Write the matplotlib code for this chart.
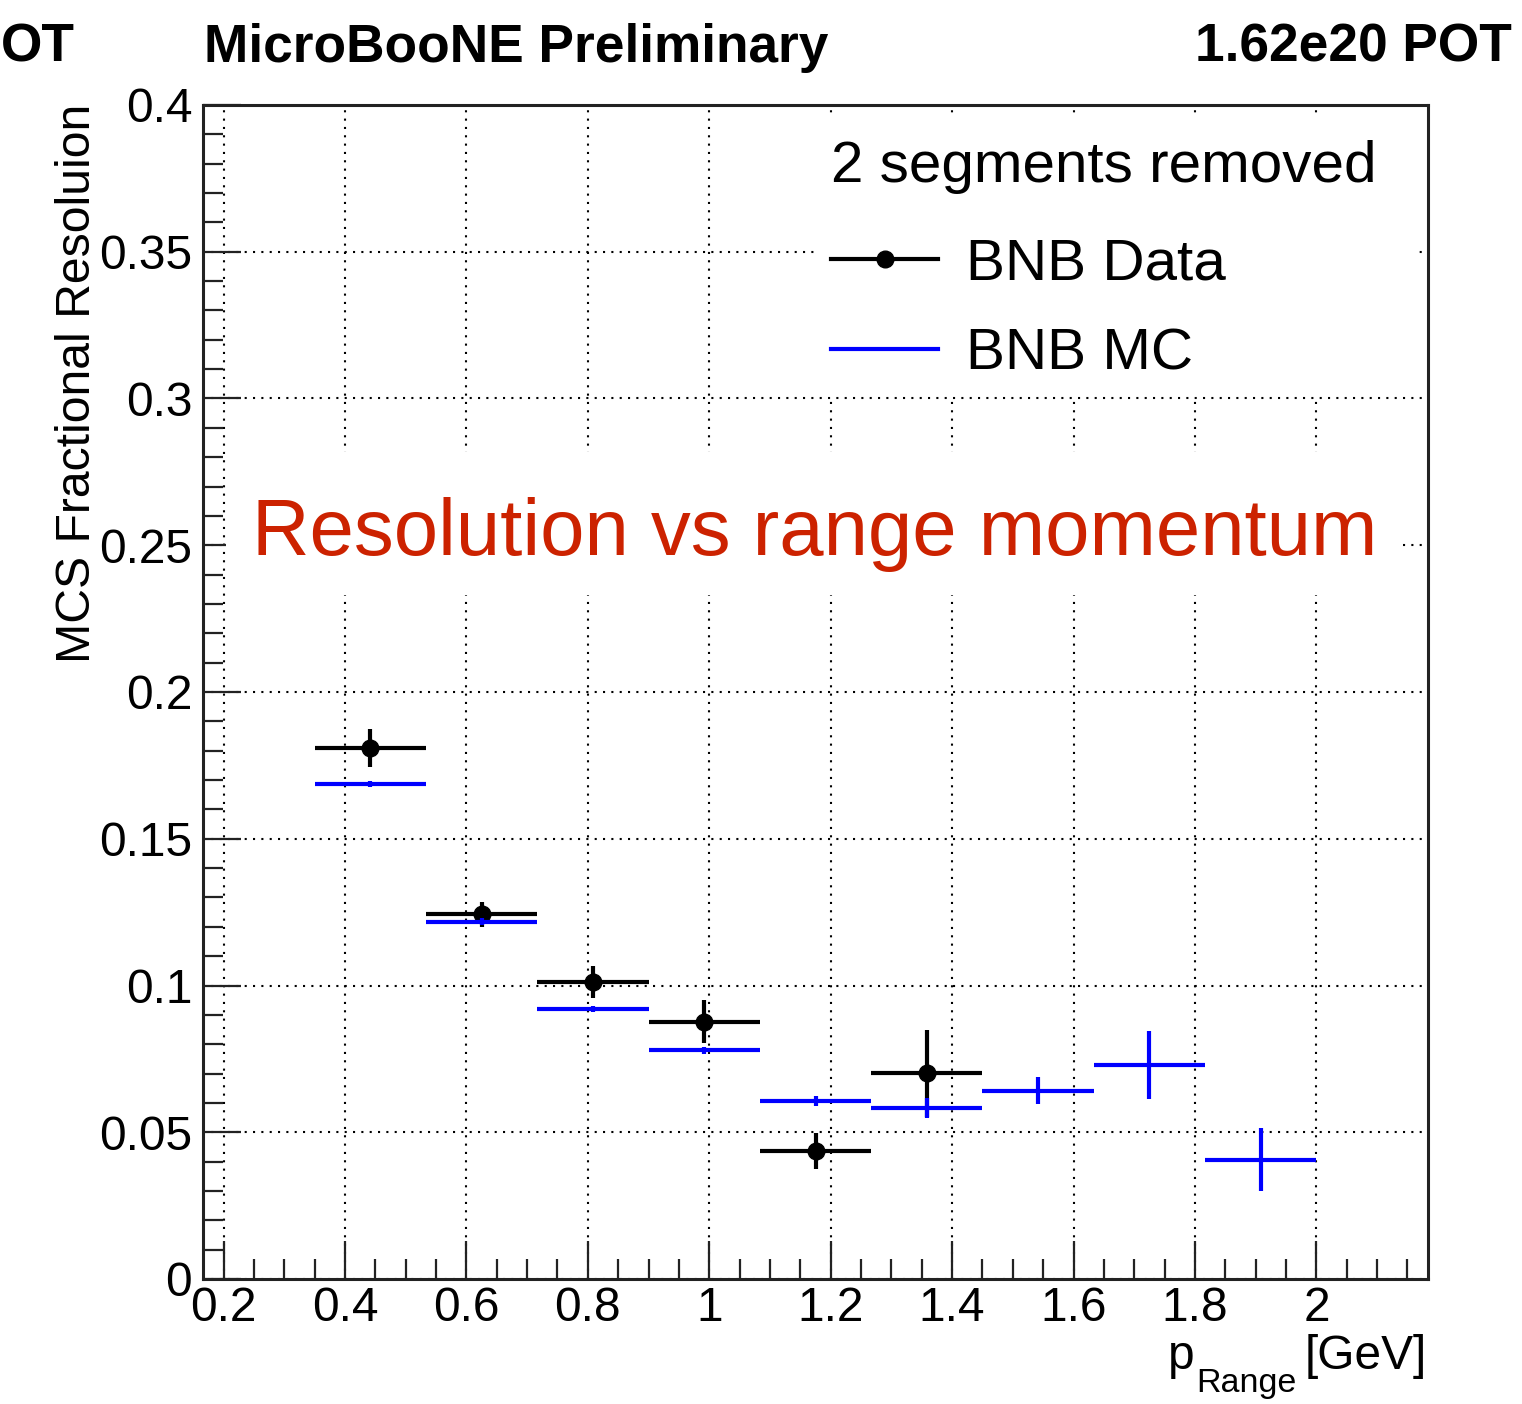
import matplotlib
matplotlib.use('Agg')
import matplotlib.pyplot as plt
from matplotlib.ticker import MultipleLocator, FuncFormatter
from matplotlib.lines import Line2D
from matplotlib.patches import Rectangle
import numpy as np

plt.rcParams['font.family'] = ['Liberation Sans', 'DejaVu Sans']

# ---------------- data ----------------
bin_edges = [0.35, 0.5333, 0.7167, 0.9, 1.0833, 1.2667, 1.45, 1.6333, 1.8167, 2.0]
data_vals = [0.1809, 0.1243, 0.1013, 0.0877, 0.0437, 0.0701]
data_errs = [0.0064, 0.0043, 0.0055, 0.0073, 0.0062, 0.0148]
mc_vals = [0.1687, 0.1217, 0.0920, 0.0780, 0.0608, 0.0582, 0.0642, 0.0728, 0.0406]
mc_errs = [0.0010, 0.0012, 0.0010, 0.0012, 0.0017, 0.0034, 0.0047, 0.0116, 0.0107]
x_range = [0.1667, 2.1833]
y_range = [0.0, 0.4]
legend_header = "2 segments removed"
legend_labels = ["BNB Data", "BNB MC"]
annotation = "Resolution vs range momentum"

edges = np.array(bin_edges)
centers = 0.5 * (edges[:-1] + edges[1:])
halfw = 0.5 * (edges[1:] - edges[:-1])
nd = len(data_vals)

W, H = 1522, 1404
fig = plt.figure(figsize=(W / 100, H / 100), dpi=100)
AX_L, AX_R, AX_T, AX_B = 203.3, 1427.7, 105.0, 1279.0
ax = fig.add_axes([AX_L / W, 1 - AX_B / H, (AX_R - AX_L) / W, (AX_B - AX_T) / H])

ax.set_xlim(*x_range)
ax.set_ylim(*y_range)


def ax_xy(px, py):
    """figure pixel (from top-left) -> axes fraction"""
    return (px - AX_L) / (AX_R - AX_L), (AX_B - py) / (AX_B - AX_T)


# grid
ax.set_axisbelow(True)
ax.grid(True, which='major', color='black', linestyle=(0, (1, 3)), linewidth=1.5)

# Data
ax.errorbar(centers[:nd], data_vals, xerr=halfw[:nd], yerr=data_errs, fmt='o',
            color='black', ms=12, elinewidth=3, capsize=0, zorder=3)
# MC (drawn on top)
ax.errorbar(centers, mc_vals, xerr=halfw, yerr=mc_errs, fmt='none',
            ecolor='#0000ff', elinewidth=3, capsize=0, zorder=4)

# axes style
for s in ax.spines.values():
    s.set_linewidth(2.2)
    s.set_color('#222222')
ax.xaxis.set_major_locator(MultipleLocator(0.2))
ax.xaxis.set_minor_locator(MultipleLocator(0.05))
ax.yaxis.set_major_locator(MultipleLocator(0.05))
ax.yaxis.set_minor_locator(MultipleLocator(0.01))
fmt = FuncFormatter(lambda v, p: '%g' % round(v, 4))
ax.xaxis.set_major_formatter(fmt)
ax.yaxis.set_major_formatter(fmt)
ax.tick_params(which='both', direction='in', top=False, right=False, width=1.6, color='#222222')
ax.tick_params(which='major', length=27.4, labelsize=34.5)
ax.tick_params(which='minor', length=14.4)
ax.tick_params(axis='x', which='major', pad=4.8)
ax.tick_params(axis='y', which='major', pad=8)

# white background boxes (legend area, annotation area) hiding the grid
lx0, ly0 = ax_xy(817, 396)
lx1, ly1 = ax_xy(1418, 115)
ax.add_patch(Rectangle((lx0, ly0), lx1 - lx0, ly1 - ly0, transform=ax.transAxes,
                       facecolor='white', edgecolor='none', zorder=1))
tx0, ty0 = ax_xy(226, 595)
tx1, ty1 = ax_xy(1402, 452)
ax.add_patch(Rectangle((tx0, ty0), tx1 - tx0, ty1 - ty0, transform=ax.transAxes,
                       facecolor='white', edgecolor='none', zorder=1))

# legend
handles = [Line2D([], [], color='black', lw=3, marker='o', ms=12),
           Line2D([], [], color='#0000ff', lw=3)]
leg = ax.legend(handles, legend_labels, title=legend_header, loc='upper left',
                bbox_to_anchor=ax_xy(831, 140),
                fontsize=42, title_fontsize=42, frameon=False,
                handlelength=1.84, handletextpad=0.47, labelspacing=0.62,
                borderpad=0.0, numpoints=1, alignment='left', borderaxespad=0)
leg._legend_box.sep = 0.62 * 42 + 5.0
leg.set_zorder(6)

# red annotation
ax.text(0.247, 0.2468, annotation, color='#cc2200', fontsize=57.4, va='baseline', ha='left',
        zorder=7)

# axis titles
fig.text(78 / W, 1 - 104 / H, "MCS Fractional Resoluion", rotation=90, ha='center', va='top',
         fontsize=34.7)
fig.text(1168 / W, 1 - 1369 / H, "p", ha='left', va='baseline', fontsize=34.5)
fig.text(1196 / W, 1 - 1392 / H, "Range", ha='left', va='baseline', fontsize=24.5)
fig.text(1427 / W, 1 - 1369 / H, "[GeV]", ha='right', va='baseline', fontsize=34.5)

# header texts
fig.text(204 / W, 1 - 62 / H, "MicroBooNE Preliminary", fontweight='bold', fontsize=38.3,
         ha='left', va='baseline')
fig.text(1512 / W, 1 - 62 / H, "1.62e20 POT", fontweight='bold', fontsize=38.3,
         ha='right', va='baseline')
fig.text(1 / W, 1 - 62 / H, "OT", fontweight='bold', fontsize=38.3,
         ha='left', va='baseline')

fig.savefig('out.png', dpi=100)
